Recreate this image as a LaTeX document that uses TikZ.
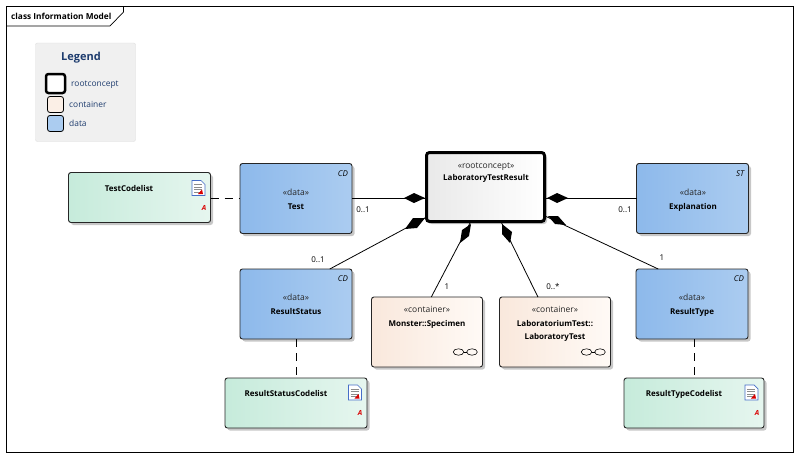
\documentclass[tikz,border=0pt]{standalone}
\usepackage{fontspec}
\setmainfont{Open Sans}
\usetikzlibrary{shadows,arrows.meta}
\definecolor{datal}{RGB}{141,185,235}
\definecolor{datar}{RGB}{171,204,240}
\definecolor{contl}{RGB}{249,232,220}
\definecolor{contr}{RGB}{255,250,246}
\definecolor{codel}{RGB}{198,235,219}
\definecolor{coder}{RGB}{230,246,239}
\definecolor{rootl}{RGB}{233,233,233}
\definecolor{inkblue}{RGB}{30,60,110}
\definecolor{iconblue}{RGB}{70,110,200}
\tikzset{
    box/.style={draw=black!85,line width=0.9pt,rounded corners=2.5pt,inner sep=0pt,outer sep=0pt,
        drop shadow={shadow xshift=2.5pt,shadow yshift=-2.5pt,fill=black,opacity=0.22}},
    databox/.style={box,left color=datal,right color=datar,minimum width=112pt,minimum height=70pt},
    contbox/.style={box,left color=contl,right color=contr,minimum width=111pt,minimum height=70pt},
    codebox/.style={box,left color=codel,right color=coder,minimum width=142pt,minimum height=50pt},
    rootbox/.style={box,draw=black,line width=3pt,rounded corners=3pt,left color=rootl,right color=white,minimum width=118pt,minimum height=69pt},
    stereo/.style={font=\fontsize{8.5}{9}\selectfont,text=black!85,inner sep=0pt,text height=6pt,text depth=2pt},
    title/.style={font=\fontsize{8}{9}\selectfont\bfseries,inner sep=0pt,align=center,text height=6pt,text depth=2pt},
    mult/.style={font=\fontsize{8}{9}\selectfont,inner sep=0pt,text height=6pt,text depth=2pt},
    tag/.style={font=\fontsize{8}{9}\selectfont\itshape,inner sep=0pt,text height=6pt,text depth=2pt},
    legtext/.style={font=\fontsize{8.4}{9}\selectfont,text=inkblue,inner sep=0pt,anchor=base west},
    redA/.style={font=\fontsize{7}{8}\selectfont\bfseries\itshape,text=red!85!black,inner sep=0pt},
    link/.style={line width=0.8pt},
    dashlink/.style={line width=0.8pt,dash pattern=on 8pt off 6pt},
    comp/.style={fill=black,draw=none}
}
% one doc icon, top left corner at #1
\newcommand{\docicon}[1]{
    \begin{scope}[shift={#1}]
        \draw[iconblue,fill=white,line width=0.7pt] (0,0) -- (9,0) -- (13,4) -- (13,15) -- (0,15) -- cycle;
        \foreach \yy in {4,6.5,9,11.5} \draw[black!45,line width=0.5pt] (2,\yy) -- (10,\yy);
        \fill[red!85!black] (6,13.5) -- (10,9) -- (11,13.5) -- cycle;
    \end{scope}
}
% glasses icon, left end at #1
\newcommand{\glassicon}[1]{
    \begin{scope}[shift={#1}]
        \draw[line width=0.6pt] (5.5,0) ellipse (5.3pt and 3.2pt);
        \draw[line width=0.6pt] (19,0) ellipse (5.3pt and 3.2pt);
        \draw[line width=0.6pt] (10.8,0) -- (13.7,0);
    \end{scope}
}
\begin{document}
\begin{tikzpicture}[x=1pt,y=-1pt]
    \useasboundingbox (0,0) rectangle (799,458);
    \fill[white] (0,0) rectangle (799,458);

    % Frame
    \draw[line width=0.8pt] (6.5,6.5) rectangle (793.5,452);
    \draw[line width=0.7pt] (6.5,26) -- (110,26) -- (123.5,12) -- (123.5,6.5);
    \node[font=\fontsize{8.3}{9}\selectfont\bfseries,inner sep=0pt,anchor=base west] (frametitle) at (11,19) {class Information Model};

    % Legend
    \fill[black!6,draw=black!13,rounded corners=2pt] (35.5,43) rectangle (135.5,141.5);
    \node[font=\fontsize{11}{12}\selectfont\bfseries,text=inkblue,inner sep=0pt] (legendtitle) at (81,58) {Legend};
    \draw[line width=2.5pt,rounded corners=2.5pt,fill=white] (46,74) rectangle (65,93);
    \draw[line width=0.8pt,rounded corners=2.5pt,fill=contl!70!white] (47.5,96.5) rectangle (63.5,112.5);
    \draw[line width=0.8pt,rounded corners=2.5pt,fill=datar] (47.5,115.5) rectangle (63.5,131.5);
    \node[legtext] (legroot) at (71,86.7) {rootconcept};
    \node[legtext] (legcont) at (69,107.7) {container};
    \node[legtext] (legdata) at (69,126.7) {data};

    % Boxes
    \node[rootbox] (root) at (485.5,187) {};
    \node[databox] (test) at (296,198.5) {};
    \node[databox] (explanation) at (692.5,198.5) {};
    \node[databox] (resultstatus) at (296,304) {};
    \node[databox] (resulttype) at (692,304) {};
    \node[contbox] (specimen) at (427,332) {};
    \node[contbox] (labtest) at (555,332) {};
    \node[codebox] (testcode) at (139.5,197.5) {};
    \node[codebox] (statuscode) at (296,403) {};
    \node[codebox,minimum width=140pt] (typecode) at (694,403) {};

    % Box texts
    \node[stereo] (rootst) at (486,166) {«rootconcept»};
    \node[title] (roott) at (486,178.7) {LaboratoryTestResult};
    \node[stereo] (testst) at (296,193.3) {«data»};
    \node[title] (testt) at (296,207) {Test};
    \node[stereo] (explst) at (693,193.3) {«data»};
    \node[title] (explt) at (693,207) {Explanation};
    \node[stereo] (statusst) at (296,298.3) {«data»};
    \node[title] (statust) at (296,312) {ResultStatus};
    \node[stereo] (typest) at (692,298.3) {«data»};
    \node[title] (typet) at (692,312) {ResultType};
    \node[stereo] (specst) at (427,310.7) {«container»};
    \node[title] (spect) at (427,324) {Monster::Specimen};
    \node[stereo] (labst) at (555,310.7) {«container»};
    \node[title] (labt) at (555,324) {LaboratoriumTest::};
    \node[title] (labtt) at (555,337) {LaboratoryTest};
    \node[title] (testcodet) at (129,189.7) {TestCodelist};
    \node[title] (statuscodet) at (286,394.7) {ResultStatusCodelist};
    \node[title] (typecodet) at (684,394.7) {ResultTypeCodelist};

    % Tags
    \node[tag] (testtag) at (343,174.7) {CD};
    \node[tag] (expltag) at (740,174.3) {ST};
    \node[tag] (statustag) at (343,279.5) {CD};
    \node[tag] (typetag) at (739,279) {CD};

    % Icons
    \docicon{(192,180.5)}
    \docicon{(348.5,385)}
    \docicon{(745,385)}
    \node[redA] (testa) at (204,208) {A};
    \node[redA] (statusa) at (360,413) {A};
    \node[redA] (typea) at (757,413) {A};
    \glassicon{(453,352)}
    \glassicon{(581,352)}

    % Connectors
    \draw[link] (test.east) -- (test.east -| root.west);
    \draw[link] (explanation.west) -- (explanation.west -| root.east);
    \draw[link] (resultstatus.46) -- (root.207);
    \draw[link] (specimen.83) -- (root.247);
    \draw[link] (labtest.116) -- (root.294);
    \draw[link] (resulttype.134) -- (root.334);
    \draw[dashlink] (testcode.east |- test.east) -- (test.west);
    \draw[dashlink] (resultstatus.south) -- (statuscode.north);
    \draw[dashlink] (typecode.north |- resulttype.south) -- (typecode.north);

    % Diamonds
    \fill[comp] (425,198) -- (414,193) -- (404,198) -- (414,203) -- cycle;
    \fill[comp] (547,198) -- (557,193) -- (568,198) -- (557,203) -- cycle;
    \fill[comp] (425,218) -- (413,218) -- (405,229) -- (417,228) -- cycle;
    \fill[comp] (471,224) -- (462,230) -- (460,243) -- (469,236) -- cycle;
    \fill[comp] (502,224) -- (502,234) -- (510,243) -- (512,232) -- cycle;
    \fill[comp] (548,216) -- (555,224) -- (566,225) -- (558,216) -- cycle;

    % Multiplicities
    \node[mult] (m1) at (363,210.3) {0..1};
    \node[mult] (m2) at (625,210.3) {0..1};
    \node[mult] (m3) at (318,260) {0..1};
    \node[mult] (m4) at (447,287.3) {1};
    \node[mult] (m5) at (553,287.3) {0..*};
    \node[mult] (m6) at (662,258.3) {1};
\end{tikzpicture}
\end{document}
